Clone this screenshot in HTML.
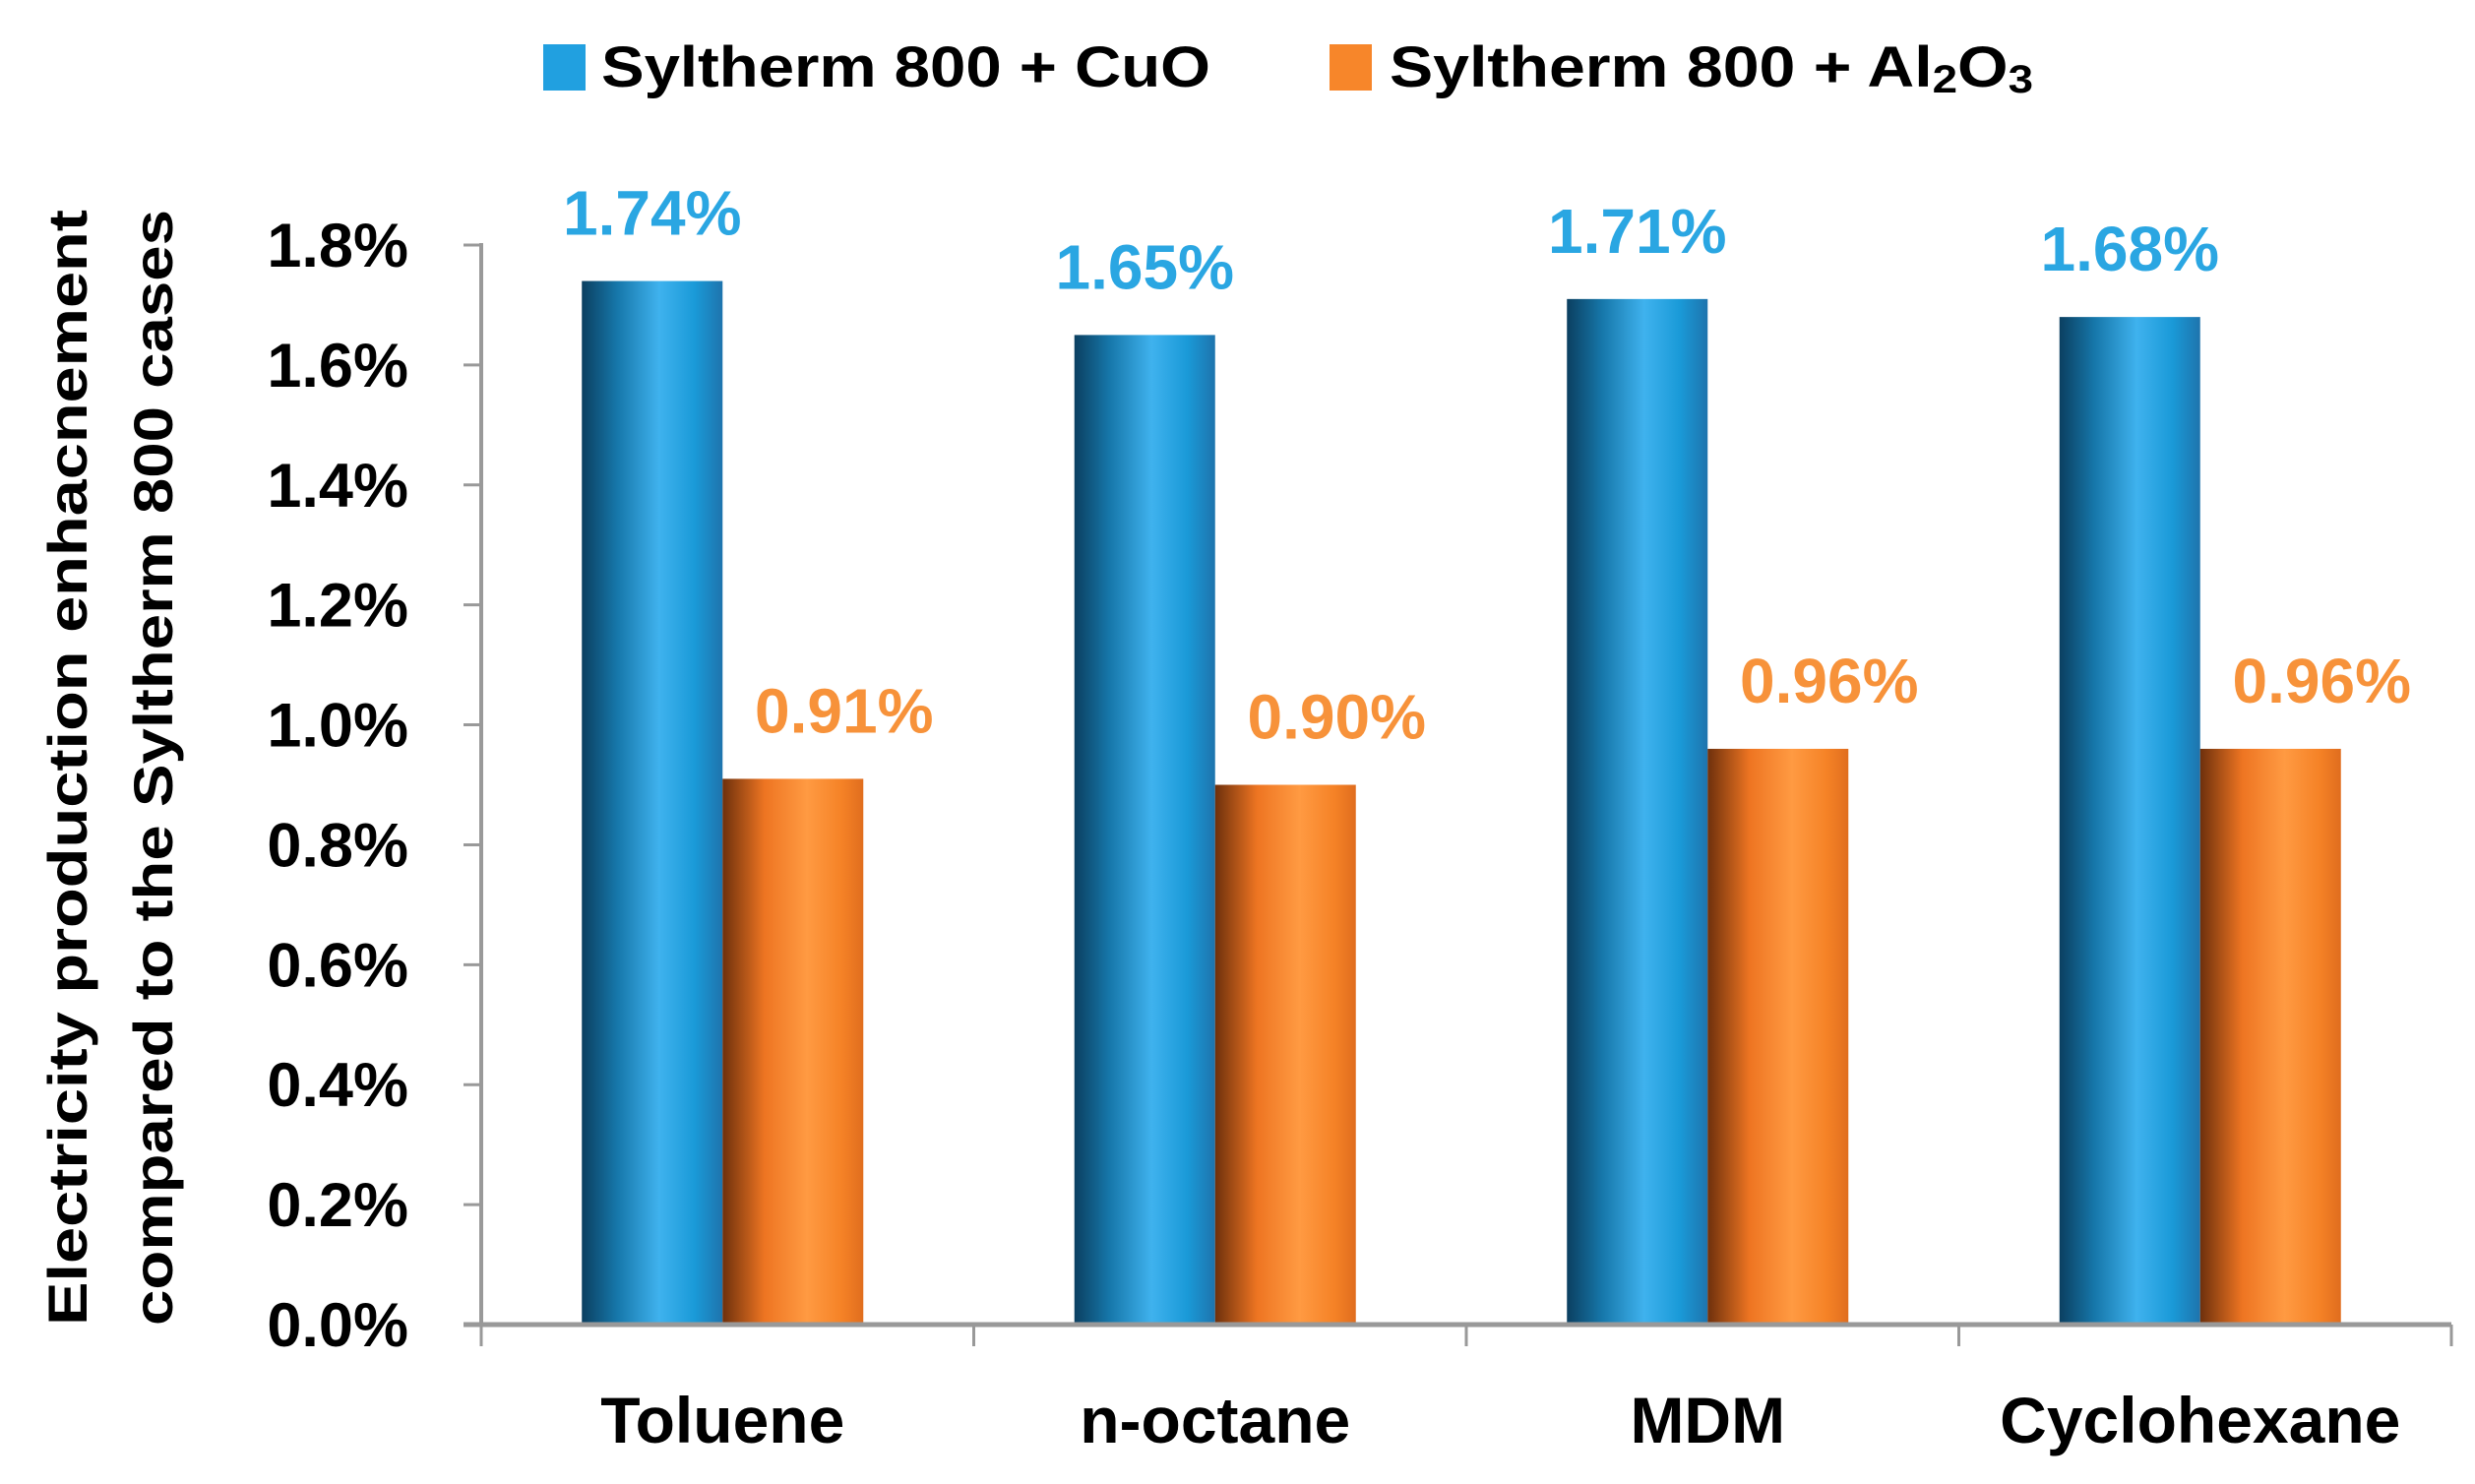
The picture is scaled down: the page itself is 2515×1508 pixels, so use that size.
<!DOCTYPE html>
<html><head><meta charset="utf-8"><style>
html,body{margin:0;padding:0;background:#fff;}
svg{display:block;font-family:"Liberation Sans",sans-serif;font-weight:bold;}
</style></head><body>
<svg id="chart" width="2515" height="1508" viewBox="0 0 2515 1508">
<defs>
<linearGradient id="gBlue" x1="0" x2="1" y1="0" y2="0">
<stop offset="0" stop-color="#0b3f60"/><stop offset="0.25" stop-color="#1677aa"/>
<stop offset="0.55" stop-color="#3fb2ee"/><stop offset="0.8" stop-color="#1a9ad8"/>
<stop offset="1" stop-color="#1e74ad"/></linearGradient>
<linearGradient id="gOrange" x1="0" x2="1" y1="0" y2="0">
<stop offset="0" stop-color="#6e300c"/><stop offset="0.3" stop-color="#ee7522"/>
<stop offset="0.6" stop-color="#ff9a42"/><stop offset="0.85" stop-color="#f58226"/>
<stop offset="1" stop-color="#e06d1e"/></linearGradient>
</defs>
<g id="legend">
<rect x="552" y="45" width="43" height="47" fill="#21a0e0"/>
<text x="611" y="88" font-size="58" textLength="619" lengthAdjust="spacingAndGlyphs" fill="#000">Syltherm 800 + CuO</text>
<rect x="1351" y="45" width="43" height="47" fill="#f7862a"/>
<text x="1412" y="88" font-size="58" textLength="654" lengthAdjust="spacingAndGlyphs" fill="#000">Syltherm 800 + Al<tspan font-size="40" dy="6">2</tspan><tspan dy="-6">O</tspan><tspan font-size="40" dy="6">3</tspan></text>
</g>
<g>
<text transform="translate(88,780) rotate(-90)" text-anchor="middle" font-size="56" textLength="1134" lengthAdjust="spacingAndGlyphs" fill="#000">Electricity production  enhacnement</text>
<text transform="translate(175,780) rotate(-90)" text-anchor="middle" font-size="56" textLength="1134" lengthAdjust="spacingAndGlyphs" fill="#000">compared to the Syltherm 800 cases</text>
</g>
<g id="plot"></g>
</svg>
<script>
const categories = ["Toluene", "n-octane", "MDM", "Cyclohexane"];
const cuoValues = [1.74, 1.65, 1.71, 1.68];
const al2o3Values = [0.91, 0.90, 0.96, 0.96];
const yTicks = [0, 0.2, 0.4, 0.6, 0.8, 1.0, 1.2, 1.4, 1.6, 1.8];

const NS = "http://www.w3.org/2000/svg";
const plot = document.getElementById("plot");
const X0 = 489, X1 = 2491, Y0 = 1346, YTOP = 249, YMAX = 1.8;
const catW = (X1 - X0) / categories.length;
const barW = 143;
function y(v){ return Y0 - (v / YMAX) * (Y0 - YTOP); }
function xCat(i){ return X0 + i * catW; }
function mk(tag, attrs){ const e = document.createElementNS(NS, tag); for (const k in attrs) e.setAttribute(k, attrs[k]); plot.appendChild(e); return e; }

yTicks.forEach(function(t){
  const ln = mk("line", {x1: X0 - 18, x2: X0, y1: y(t), y2: y(t), stroke: "#999", "stroke-width": 3});
  
  
  const tx = mk("text", {x: 415, y: y(t) + 22, "text-anchor": "end", "font-size": 63, fill: "#000"});
  tx.textContent = t.toFixed(1) + "%";
  
  
});
categories.forEach(function(c, i){
  const cx = xCat(i) + catW / 2 - 5;
  const b1 = mk("rect", {x: cx - barW, y: y(cuoValues[i]), width: barW, height: Y0 - y(cuoValues[i]), fill: "url(#gBlue)"});
  
  
  const b2 = mk("rect", {x: cx, y: y(al2o3Values[i]), width: barW, height: Y0 - y(al2o3Values[i]), fill: "url(#gOrange)"});
  
  
  const l1 = mk("text", {x: cx - barW / 2, y: y(cuoValues[i]) - 47, "text-anchor": "middle", "font-size": 64, fill: "#2aa6e2"});
  l1.textContent = cuoValues[i].toFixed(2) + "%";
  
  
  const l2 = mk("text", {x: cx + barW / 2 + 52, y: y(al2o3Values[i]) - 47, "text-anchor": "middle", "font-size": 64, fill: "#f7923a"});
  l2.textContent = al2o3Values[i].toFixed(2) + "%";
  
  
  const cl = mk("text", {x: cx, y: 1466, "text-anchor": "middle", "font-size": 66, fill: "#000"});
  cl.textContent = c;
  
  
});
for (let i = 0; i <= categories.length; i++) {
  const tk = mk("line", {x1: xCat(i), x2: xCat(i), y1: Y0, y2: Y0 + 22, stroke: "#999", "stroke-width": 3});
  
  
}
const ya = mk("line", {x1: X0, x2: X0, y1: YTOP - 2, y2: Y0, stroke: "#999", "stroke-width": 4});


const xa = mk("line", {x1: X0 - 18, x2: X1, y1: Y0, y2: Y0, stroke: "#999", "stroke-width": 5});


</script>
</body></html>
